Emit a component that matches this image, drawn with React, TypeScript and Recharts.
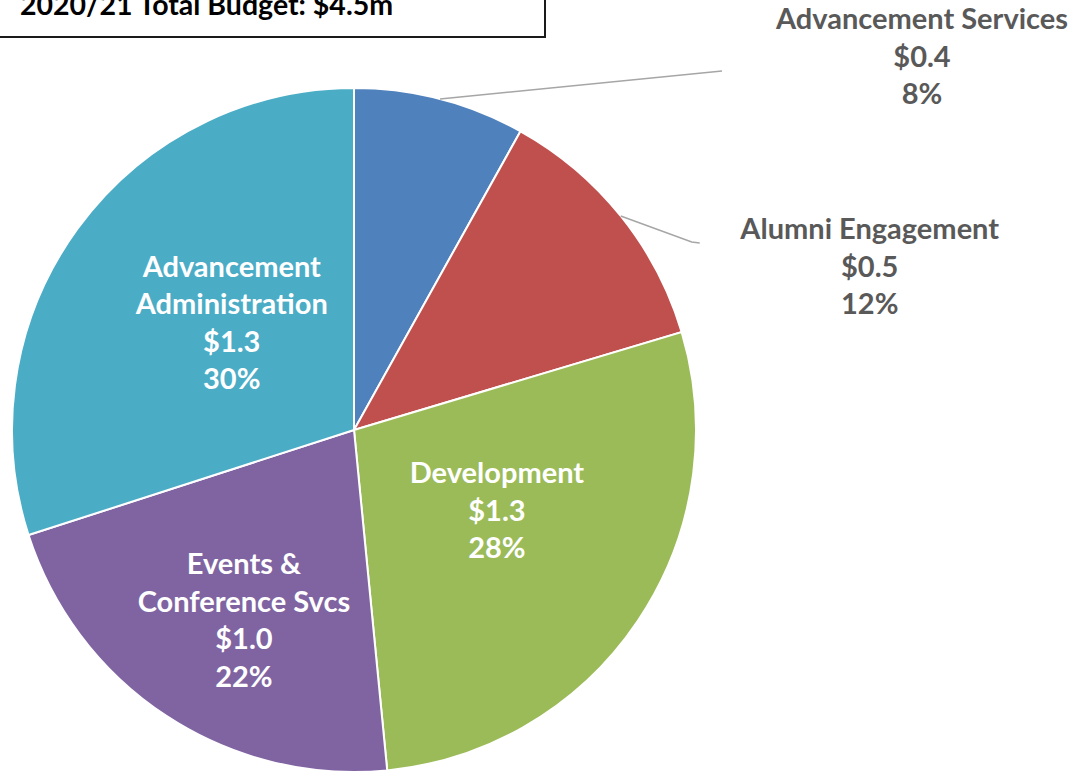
import { PieChart, Pie, Cell } from 'recharts'

const categories = [
  'Advancement Services',
  'Alumni Engagement',
  'Development',
  'Events &\nConference Svcs',
  'Advancement\nAdministration',
]
const amounts = ['$0.4', '$0.5', '$1.3', '$1.0', '$1.3']
// share of total budget, in percent
const shares = [8.1, 12.3, 28.1, 21.6, 30.0]
const colors = ['#4F81BD', '#C0504D', '#9BBB59', '#8064A2', '#4BACC6']

const chartData = categories.map((name, i) => ({
  name,
  amount: amounts[i],
  value: shares[i],
}))

const FONT = 'Lato, "Open Sans", sans-serif'
const FONT_SIZE = 29
const LINE_H = 37.5
const RAD = Math.PI / 180

// where each label sits; outside ones are offsets from the slice edge
const labelLayout: any[] = [
  { kind: 'out', line: [[282, -28]], text: [482, -81] },
  { kind: 'out', line: [[71, 26], [79, 27]], text: [249, 12] },
  { kind: 'in', r: 0.5, nudge: [1, -16] },
  { kind: 'in', r: 0.64, nudge: [10, 6] },
  { kind: 'in', r: 0.5, nudge: [16, -8] },
]

const renderLabel = (props: any) => {
  const { cx, cy, midAngle, outerRadius, percent, index, payload } = props
  const layout = labelLayout[index]
  const lines = [...String(payload.name).split('\n'), payload.amount, `${Math.round(percent * 100)}%`]
  const cos = Math.cos(-midAngle * RAD)
  const sin = Math.sin(-midAngle * RAD)

  if (layout.kind === 'in') {
    const r = outerRadius * layout.r
    const x = cx + r * cos + layout.nudge[0]
    const y = cy + r * sin + layout.nudge[1]
    const top = y - ((lines.length - 1) * LINE_H) / 2
    return (
      <g key={`lbl-${index}`}>
        {lines.map((t, i) => (
          <text key={i} x={x} y={top + i * LINE_H} textAnchor="middle" dominantBaseline="central"
            fill="#FFFFFF" fontFamily={FONT} fontWeight={700} fontSize={FONT_SIZE}>
            {t}
          </text>
        ))}
      </g>
    )
  }

  const ex = cx + outerRadius * cos
  const ey = cy + outerRadius * sin
  const pts = [[ex, ey], ...layout.line.map((p: number[]) => [ex + p[0], ey + p[1]])]
  const tx = ex + layout.text[0]
  const ty = ey + layout.text[1]
  return (
    <g key={`lbl-${index}`}>
      <polyline points={pts.map((p) => p.join(',')).join(' ')} fill="none" stroke="#A6A6A6" strokeWidth={1.5} />
      {lines.map((t, i) => (
        <text key={i} x={tx} y={ty + i * LINE_H} textAnchor="middle" dominantBaseline="central"
          fill="#595959" fontFamily={FONT} fontWeight={700} fontSize={FONT_SIZE}>
          {t}
        </text>
      ))}
    </g>
  )
}

export default function App() {
  return (
    <div style={{ position: 'absolute', left: 0, top: 0, width: 1079, height: 774, background: '#fff', overflow: 'hidden' }}>
      <PieChart width={1079} height={774} margin={{ top: 0, right: 0, bottom: 0, left: 0 }}>
        <Pie
          data={chartData}
          dataKey="value"
          nameKey="name"
          cx={354}
          cy={430}
          outerRadius={342}
          startAngle={90}
          endAngle={-270}
          stroke="#FFFFFF"
          strokeWidth={2}
          label={renderLabel}
          labelLine={false}
          isAnimationActive={false}
        >
          {chartData.map((d, i) => (
            <Cell key={d.name} fill={colors[i]} />
          ))}
        </Pie>
      </PieChart>
      <div
        style={{
          position: 'absolute', left: -4, top: -20, width: 550, height: 58,
          border: '2px solid #1a1a1a', boxSizing: 'border-box', background: '#fff',
          fontFamily: FONT, fontWeight: 700, fontSize: 28.5, color: '#000',
        }}
      >
        <span style={{ position: 'absolute', left: 22, top: 5, whiteSpace: 'nowrap' }}>2020/21 Total Budget: $4.5m</span>
      </div>
    </div>
  )
}
